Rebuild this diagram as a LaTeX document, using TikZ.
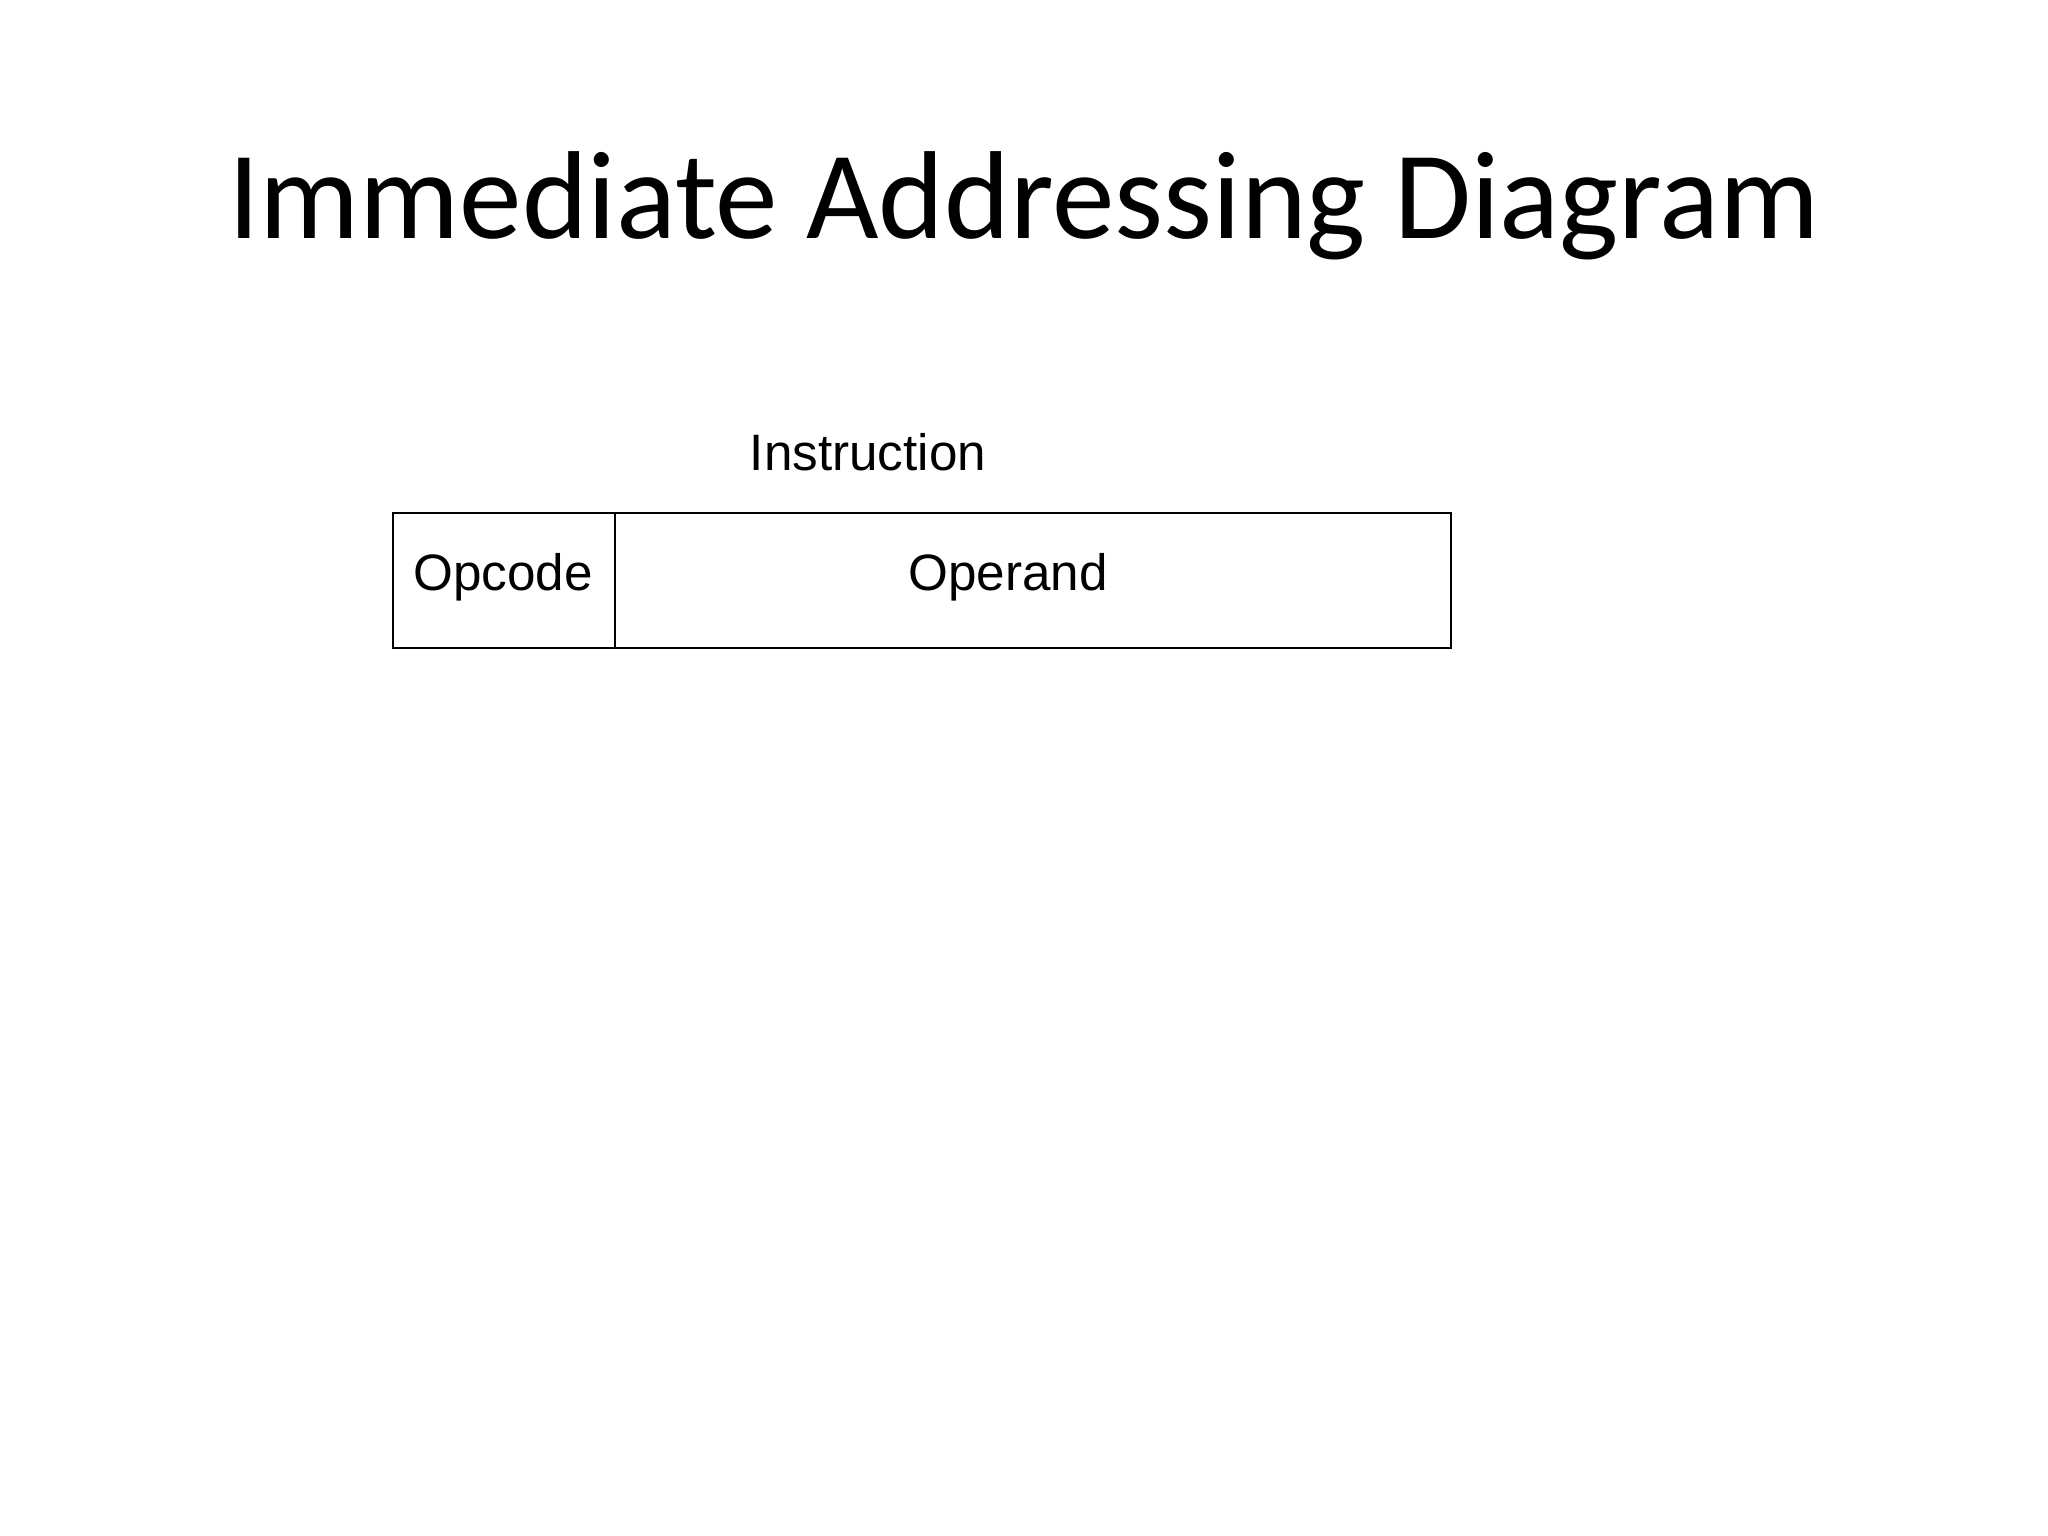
\documentclass[tikz,border=0pt]{standalone}
\usepackage{fontspec}
\setmainfont{Liberation Sans}
\newfontfamily\titlefont{Carlito}
\begin{document}
\begin{tikzpicture}[x=0.3515625pt,y=-0.3515625pt,
  field/.style={draw=black,line width=0.75pt,inner sep=0pt,anchor=north west},
  lbl/.style={anchor=base,inner sep=0pt,font=\fontsize{18}{21}\selectfont}]
\useasboundingbox[fill=white] (0,0) rectangle (2048,1536);
\node[anchor=base,inner sep=0pt,font=\titlefont\fontsize{44}{52}\selectfont] (title) at (1024,239) {Immediate Addressing Diagram};
\node[lbl] (instr) at (868,471) {Instruction};
\node[field,minimum width=78.05pt,minimum height=47.46pt] (opbox) at (392,512) {};
\node[field,minimum width=293.9pt,minimum height=47.46pt] (operbox) at (614,512) {};
\node[lbl] (opcode) at (503,590) {Opcode};
\node[lbl] (operand) at (1008,590) {Operand};
\end{tikzpicture}
\end{document}
